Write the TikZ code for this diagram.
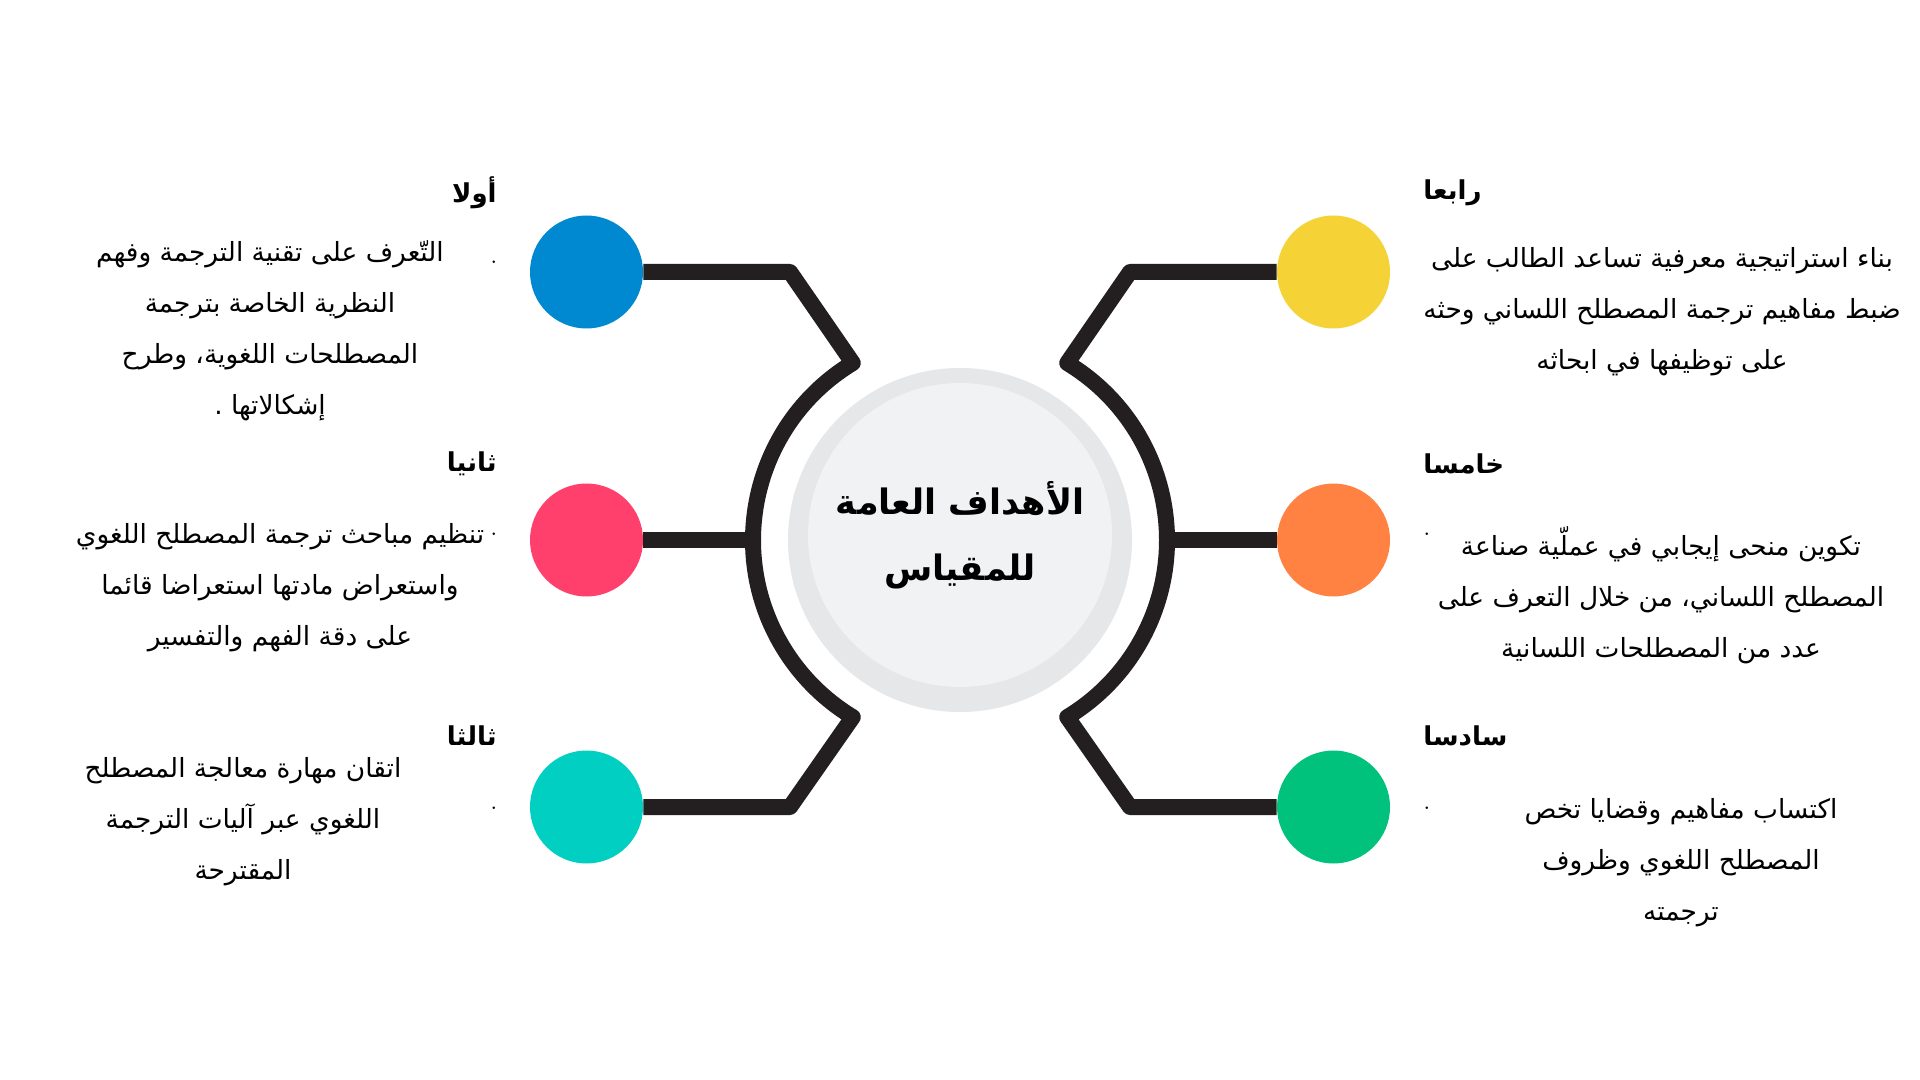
\documentclass[tikz,border=0pt]{standalone}
\usepackage{fontspec}
\newfontfamily\arabicfont[Script=Arabic]{DejaVu Sans}
\TeXXeTstate=1
\definecolor{ink}{HTML}{231F20}
\definecolor{ringgray}{HTML}{E6E7E9}
\definecolor{coregray}{HTML}{F1F2F4}
\definecolor{cblue}{HTML}{0088D1}
\definecolor{cpink}{HTML}{FF3F6C}
\definecolor{cteal}{HTML}{00CFC1}
\definecolor{cyellow}{HTML}{F5D236}
\definecolor{corange}{HTML}{FF8243}
\definecolor{cgreen}{HTML}{00C27C}
\begin{document}
\begin{tikzpicture}[x=0.5pt,y=-0.5pt,
  conn/.style={draw=ink,line width=8pt,line join=round},
  dotc/.style={circle,minimum size=56.5pt,inner sep=0pt},
  head/.style={font=\arabicfont\bfseries\fontsize{13}{16}\selectfont,inner sep=0pt},
  body/.style={font=\arabicfont\fontsize{13.2}{25.5}\selectfont,align=center,inner sep=0pt},
  bul/.style={font=\fontsize{13}{13}\selectfont,inner sep=0pt}]
\useasboundingbox (0,0) rectangle (1920,1080);
\fill[white] (0,0) rectangle (1920,1080);

% central circle
\node[circle,fill=ringgray,minimum size=172pt,inner sep=0pt] (ring) at (960,540) {};
\node[circle,fill=coregray,minimum size=152pt,inner sep=0pt,align=center,
  font=\arabicfont\bfseries\fontsize{17.5}{33}\selectfont] (core) at (960,535)
  {\beginR الأهداف العامة\endR\\\beginR للمقياس\endR};

% coloured circles
\node[dotc,fill=cblue]   (c1) at (586.5,272) {};
\node[dotc,fill=cpink]   (c2) at (586.5,540) {};
\node[dotc,fill=cteal]   (c3) at (586.5,807) {};
\node[dotc,fill=cyellow] (c4) at (1333.5,272) {};
\node[dotc,fill=corange] (c5) at (1333.5,540) {};
\node[dotc,fill=cgreen]  (c6) at (1333.5,807) {};

% connector points
\coordinate (kL1) at (790,272);
\coordinate (kL3) at (790,807);
\coordinate (kR1) at (1130,272);
\coordinate (kR3) at (1130,807);
\coordinate (tL1) at (852.8,363);
\coordinate (tL3) at (852.8,717);
\coordinate (tR1) at (1067.2,363);
\coordinate (tR3) at (1067.2,717);
\coordinate (aL) at (753,540);
\coordinate (aR) at (1167,540);

% connectors
\draw[conn] (c1.east) -- (kL1) -- (tL1) arc[start angle=238.8,end angle=121.2,radius=207] -- (kL3) -- (c3.east);
\draw[conn] (c2.east) -- (aL);
\draw[conn] (c4.west) -- (kR1) -- (tR1) arc[start angle=-58.8,end angle=58.8,radius=207] -- (kR3) -- (c6.west);
\draw[conn] (c5.west) -- (aR);

% headings
\node[head,anchor=east] (h1) at (497,193) {\beginR أولا\endR};
\node[head,anchor=east] (h2) at (497,464) {\beginR ثانيا\endR};
\node[head,anchor=east] (h3) at (497,736) {\beginR ثالثا\endR};
\node[head,anchor=west] (h4) at (1423,193) {\beginR رابعا\endR};
\node[head,anchor=west] (h5) at (1423,464) {\beginR خامسا\endR};
\node[head,anchor=west] (h6) at (1423,736) {\beginR سادسا\endR};

% bullets
\node[bul] (d1) at (494,262) {.};
\node[bul] (d2) at (494,534) {.};
\node[bul] (d3) at (494,808) {.};
\node[bul] (d5) at (1427,534) {.};
\node[bul] (d6) at (1427,808) {.};

% bodies
\node[body] (b1) at (270,331) {\beginR التّعرف على تقنية الترجمة وفهم\endR\\
  \beginR النظرية الخاصة بترجمة\endR\\
  \beginR المصطلحات اللغوية، وطرح\endR\\
  \beginR إشكالاتها .\endR};
\node[body] (b2) at (280,588) {\beginR تنظيم مباحث ترجمة المصطلح اللغوي\endR\\
  \beginR واستعراض مادتها استعراضا قائما\endR\\
  \beginR على دقة الفهم والتفسير\endR};
\node[body] (b3) at (243,822) {\beginR اتقان مهارة معالجة المصطلح\endR\\
  \beginR اللغوي عبر آليات الترجمة\endR\\
  \beginR المقترحة\endR};
\node[body] (b4) at (1662,312) {\beginR بناء استراتيجية معرفية تساعد الطالب على\endR\\
  \beginR ضبط مفاهيم ترجمة المصطلح اللساني وحثه\endR\\
  \beginR على توظيفها في ابحاثه\endR};
\node[body] (b5) at (1661,595) {\beginR تكوين منحى إيجابي في عملّية صناعة\endR\\
  \beginR المصطلح اللساني، من خلال التعرف على\endR\\
  \beginR عدد من المصطلحات اللسانية\endR};
\node[body] (b6) at (1681,863) {\beginR اكتساب مفاهيم وقضايا تخص\endR\\
  \beginR المصطلح اللغوي وظروف\endR\\
  \beginR ترجمته\endR};
\end{tikzpicture}
\end{document}
